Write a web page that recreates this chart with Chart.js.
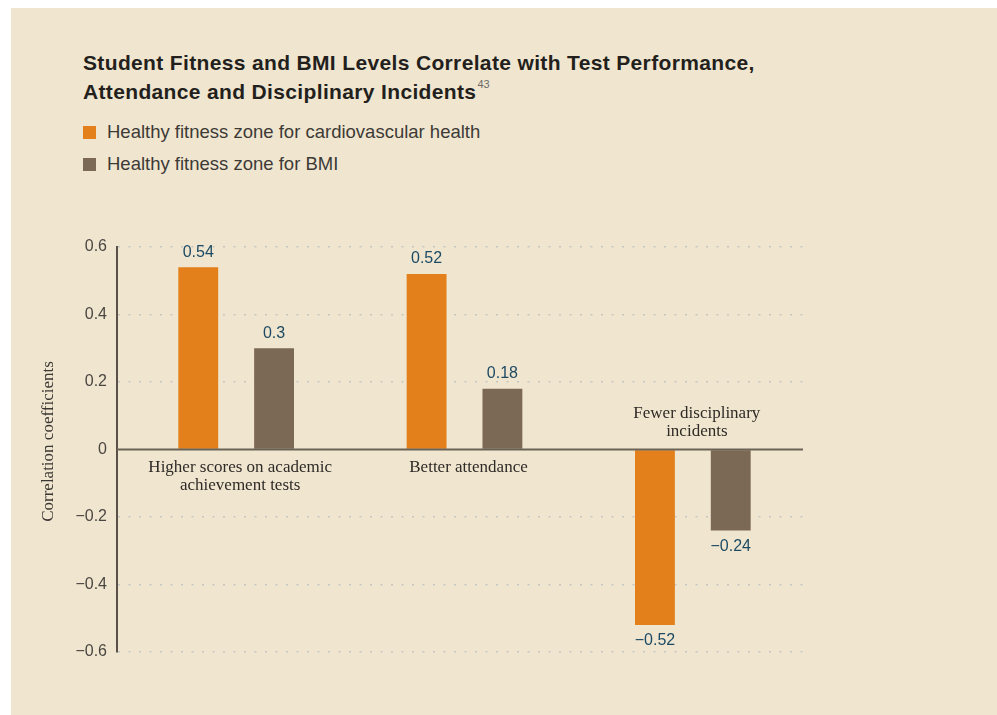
<!DOCTYPE html>
<html>
<head>
<meta charset="utf-8">
<script src="https://cdn.jsdelivr.net/npm/chart.js@4"></script>
<style>
  html, body { margin: 0; padding: 0; background: #ffffff; }
  #panel {
    position: absolute; left: 11px; top: 8px; width: 986px; height: 707px;
    background: #f0e6d0;
  }
  #title {
    position: absolute; left: 83px; top: 48px; margin: 0;
    font-family: "Liberation Sans", Arial, sans-serif; font-weight: bold;
    font-size: 21px; letter-spacing: 0.35px; line-height: 29px; color: #231f1c;
  }
  #title sup { font-size: 11px; font-weight: normal; color: #6d6a66; line-height: 0; vertical-align: 11px; margin-left: 1px; letter-spacing: 0; }
  #legend { position: absolute; left: 83px; top: 119px; }
  .item {
    font-family: "Liberation Sans", Arial, sans-serif; font-size: 18.5px; color: #3d3a36;
    height: 32px; line-height: 26px; white-space: nowrap;
  }
  .item span.box { display: inline-block; width: 13px; height: 13px; margin-right: 11px; vertical-align: -1px; }
  #wrap { position: absolute; left: 0; top: 0; width: 997px; height: 715px; }
</style>
</head>
<body>
<div id="panel"></div>
<h1 id="title">Student Fitness and BMI Levels Correlate with Test Performance,<br>Attendance and Disciplinary Incidents<sup>43</sup></h1>
<div id="legend"></div>
<div id="wrap"><canvas id="chartFitness" width="997" height="715"></canvas></div>
<script>
const categories = [
    ['Higher scores on academic', 'achievement tests'],
    ['Better attendance'],
    ['Fewer disciplinary', 'incidents']
];
const seriesNames = ['Healthy fitness zone for cardiovascular health', 'Healthy fitness zone for BMI'];
const cardioValues = [0.54, 0.52, -0.52];
const bmiValues = [0.30, 0.18, -0.24];
const seriesColors = ['#e3801c', '#7b6955'];
const yTicks = [-0.6, -0.4, -0.2, 0, 0.2, 0.4, 0.6];

const fmt = v => {
    const s = String(Math.round(Math.abs(v) * 100) / 100);
    return v < 0 ? '\u2212' + s : s;
};

// html legend built from the series arrays
const legendEl = document.getElementById('legend');
seriesNames.forEach((name, i) => {
    const d = document.createElement('div');
    d.className = 'item';
    d.innerHTML = '<span class="box" style="background:' + seriesColors[i] + '"></span>' + name;
    legendEl.appendChild(d);
});

// categories sit a few px right of the y axis in the original
const shiftX = {
    id: 'shiftX',
    afterLayout(chart) {
        const s = chart.scales.x;
        s.left += 5;
        s.right += 4;
        s.width = s.right - s.left;
        s.configure();
    }
};

// category labels, zero line, value labels and y title
const extras = {
    id: 'extras',
    afterDatasetsDraw(chart) {
        const ctx = chart.ctx;
        const x = chart.scales.x;
        const y = chart.scales.y;
        const area = chart.chartArea;
        const y0 = y.getPixelForValue(0);

        ctx.save();
        ctx.strokeStyle = '#6b6256';
        ctx.lineWidth = 2;
        ctx.beginPath();
        ctx.moveTo(area.left, y0);
        ctx.lineTo(area.right, y0);
        ctx.stroke();

        // value labels
        ctx.font = '16px "Liberation Sans", Arial, sans-serif';
        ctx.fillStyle = '#1d4a63';
        ctx.textAlign = 'center';
        ctx.textBaseline = 'middle';
        chart.data.datasets.forEach((ds, di) => {
            chart.getDatasetMeta(di).data.forEach((bar, i) => {
                const v = ds.data[i];
                const ty = v >= 0 ? bar.y - 15 : bar.y + 16;
                ctx.fillText(fmt(v), bar.x, ty);
            });
        });

        // category labels
        ctx.font = '17px "Liberation Serif", "Times New Roman", serif';
        ctx.fillStyle = '#2e2a26';
        categories.forEach((lines, i) => {
            const cx = x.getPixelForValue(i) + 4;
            const neg = cardioValues[i] < 0 && bmiValues[i] < 0;
            lines.forEach((ln, j) => {
                const ly = neg ? y0 - 36 + j * 18 : y0 + 18 + j * 18;
                ctx.fillText(ln, cx, ly);
            });
        });

        // y title
        ctx.translate(49, (area.top + area.bottom) / 2 - 8);
        ctx.rotate(-Math.PI / 2);
        ctx.font = '17px "Liberation Serif", "Times New Roman", serif';
        ctx.fillStyle = '#3a3632';
        ctx.fillText('Correlation coefficients', 0, 0);
        ctx.restore();
    }
};

const data = {
    labels: categories,
    datasets: [{
        label: seriesNames[0],
        backgroundColor: seriesColors[0],
        data: cardioValues,
    }, {
        label: seriesNames[1],
        backgroundColor: seriesColors[1],
        data: bmiValues,
    }]
};

const config = {
    type: 'bar',
    data: data,
    options: {
        responsive: false,
        animation: false,
        layout: { padding: { left: 0, top: 247, right: 194, bottom: 63 } },
        datasets: { bar: { categoryPercentage: 0.664, barPercentage: 0.526 } },
        plugins: { legend: { display: false }, tooltip: { enabled: false } },
        scales: {
            x: { display: false },
            y: {
                min: -0.6,
                max: 0.6,
                afterFit: s => { s.width = 117; },
                afterBuildTicks: s => { s.ticks = yTicks.map(v => ({ value: v })); },
                ticks: {
                    padding: 10,
                    color: '#4a4642',
                    font: { family: '"Liberation Sans", Arial, sans-serif', size: 16 },
                    callback: v => fmt(v)
                },
                grid: {
                    drawTicks: false,
                    lineWidth: 1.5,
                    color: c => c.tick && c.tick.value === 0 ? 'rgba(0,0,0,0)' : '#c4c6c2'
                },
                border: { display: true, color: '#5a5148', width: 2, dash: [2, 8.5] }
            }
        }
    },
    plugins: [shiftX, extras]
};

new Chart(document.getElementById('chartFitness'), config);
</script>
</body>
</html>
